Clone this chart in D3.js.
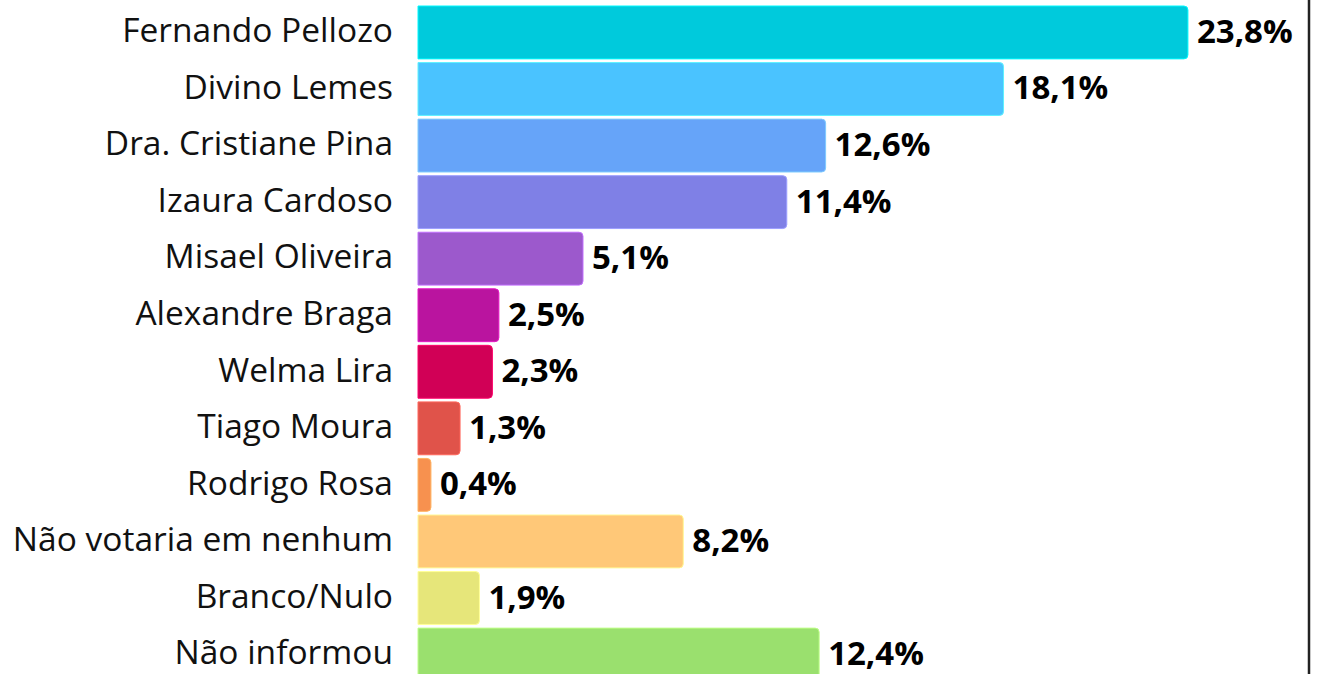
<!DOCTYPE html>
<html><head><meta charset="utf-8">
<script src="https://cdn.jsdelivr.net/npm/d3@7"></script>
<style>html,body{margin:0;padding:0;background:#fff;overflow:hidden}</style>
</head><body>
<svg id="c" width="1317" height="674"></svg>
<script>
const categories = ["Fernando Pellozo","Divino Lemes","Dra. Cristiane Pina","Izaura Cardoso","Misael Oliveira","Alexandre Braga","Welma Lira","Tiago Moura","Rodrigo Rosa","Não votaria em nenhum","Branco/Nulo","Não informou"];
const values = [23.8,18.1,12.6,11.4,5.1,2.5,2.3,1.3,0.4,8.2,1.9,12.4];
const colors = ["#00cadc","#4ac3ff","#66a4f9","#7f80e6","#9c59cc","#ba149f","#d10056","#e0534a","#f7914f","#ffc878","#e6e67a","#9ae06e"];

const svg = d3.select("#c");
const x = d3.scaleLinear().domain([0,25]).range([418, 418 + 32.35*25]);
const y = d3.scaleBand().domain(categories).range([6, 681]).paddingInner(0.065).paddingOuter(0);
const fmt = v => d3.format(".1f")(v).replace(".", ",") + "%";

function barPath(x0, y0, w, h, r) {
  r = Math.min(r, w, h/2);
  return `M${x0},${y0}H${x0+w-r}Q${x0+w},${y0} ${x0+w},${y0+r}V${y0+h-r}Q${x0+w},${y0+h} ${x0+w-r},${y0+h}H${x0}Z`;
}

const data = categories.map((c,i)=>({c, v: values[i], col: colors[i]}));

svg.append("g").selectAll("path").data(data).join("path")
  .attr("d", d => barPath(x(0), y(d.c), x(d.v)-x(0), y.bandwidth(), 4))
  .attr("fill", d => d.col)
  .attr("stroke", d => d3.color(d.col).brighter(0.6))
  .attr("stroke-width", 1);

svg.append("g").selectAll("text").data(data).join("text")
  .attr("x", 393).attr("y", d => y(d.c) + y.bandwidth()/2 + 9.8)
  .attr("text-anchor", "end")
  .attr("font-family", "'Open Sans', sans-serif").attr("font-size", 33.5)
  .attr("fill", "#111").text(d => d.c);

svg.append("g").selectAll("text").data(data).join("text")
  .attr("x", d => x(d.v) + 9).attr("y", d => y(d.c) + y.bandwidth()/2 + 10.5)
  .attr("font-family", "'Open Sans', sans-serif").attr("font-size", 33).attr("font-weight", "bold")
  .attr("fill", "#000").text(d => fmt(d.v));

svg.append("line").attr("x1", 1309).attr("x2", 1309).attr("y1", 0).attr("y2", 674)
  .attr("stroke", "#222").attr("stroke-width", 2.5);
</script>
</body></html>
